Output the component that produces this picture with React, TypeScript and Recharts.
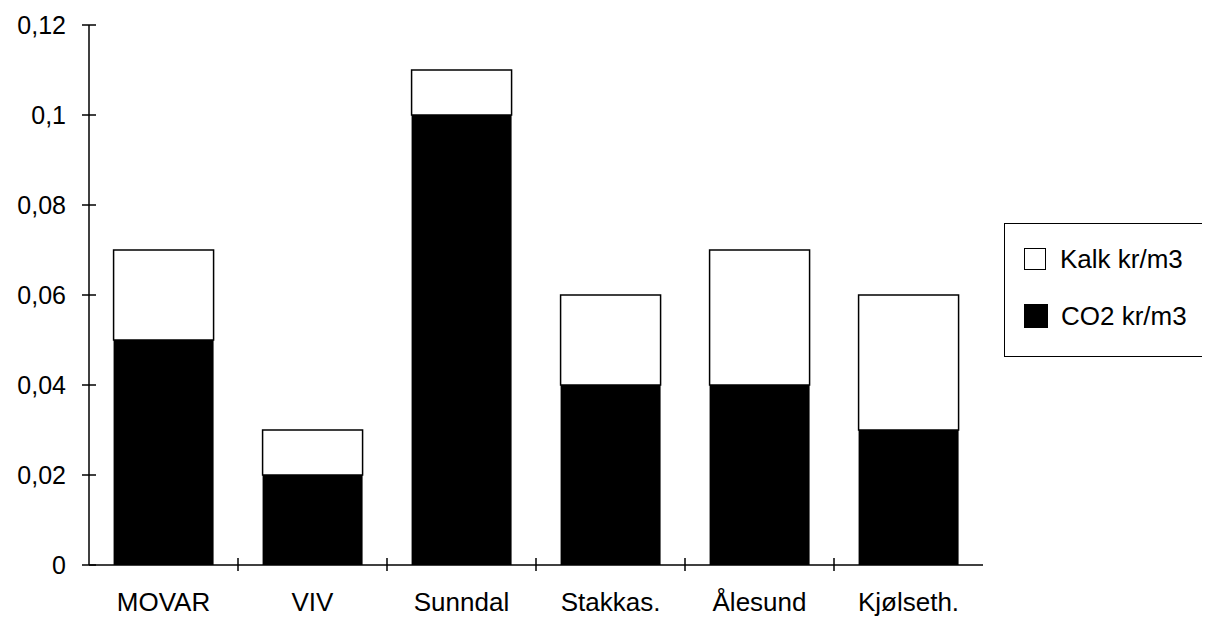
import React from 'react';
import { BarChart, Bar, XAxis, YAxis, Legend } from 'recharts';

const categories = ['MOVAR', 'VIV', 'Sunndal', 'Stakkas.', 'Ålesund', 'Kjølseth.'];
const co2Values = [0.05, 0.02, 0.1, 0.04, 0.04, 0.03];
const kalkValues = [0.02, 0.01, 0.01, 0.02, 0.03, 0.03];
const yTicks = [0, 0.02, 0.04, 0.06, 0.08, 0.1, 0.12];
const yTickLabels = ['0', '0,02', '0,04', '0,06', '0,08', '0,1', '0,12'];

const seriesNames = { kalk: 'Kalk kr/m3', co2: 'CO2 kr/m3' };

const data = categories.map((name, i) => ({ name, co2: co2Values[i], kalk: kalkValues[i] }));

const FONT = '"Liberation Sans", Arial, sans-serif';

const YTick = (props: any) => {
  const { x, y, payload } = props;
  const idx = yTicks.indexOf(payload.value);
  return (
    <g>
      <line x1={x + 16} x2={x + 30} y1={y} y2={y} stroke="#000" strokeWidth={1.5} />
      <text x={x} y={y} dy="0.36em" textAnchor="end" fontFamily={FONT} fontSize={25} fill="#000">
        {idx >= 0 ? yTickLabels[idx] : String(payload.value)}
      </text>
    </g>
  );
};

const XTick = (props: any) => {
  const { x, y, payload, index } = props;
  const half = payload.offset || 0;
  const axisY = y - 28;
  return (
    <g>
      {index > 0 && (
        <line x1={x - half} x2={x - half} y1={axisY - 7} y2={axisY + 6} stroke="#000" strokeWidth={1.5} />
      )}
      <text x={x} y={y} dy="0.71em" textAnchor="middle" fontFamily={FONT} fontSize={26} fill="#000">
        {payload.value}
      </text>
    </g>
  );
};

const LegendContent = () => (
  <div
    style={{
      position: 'relative',
      width: '100%',
      height: '100%',
      boxSizing: 'border-box',
      borderLeft: '1.5px solid #000',
      borderTop: '1.5px solid #000',
      borderBottom: '1.5px solid #000',
      fontFamily: FONT,
      fontSize: 26,
      color: '#000',
    }}
  >
    <div style={{ position: 'absolute', left: 19, top: 23, display: 'flex', alignItems: 'center' }}>
      <div style={{ width: 22, height: 22, border: '1.5px solid #000', background: '#fff', boxSizing: 'border-box' }} />
      <span style={{ marginLeft: 14, lineHeight: '24px' }}>{seriesNames.kalk}</span>
    </div>
    <div style={{ position: 'absolute', left: 19, top: 80, display: 'flex', alignItems: 'center' }}>
      <div style={{ width: 24, height: 24, background: '#000' }} />
      <span style={{ marginLeft: 13, lineHeight: '24px' }}>{seriesNames.co2}</span>
    </div>
  </div>
);

export default function App() {
  return (
    <div style={{ width: 1194, height: 613, background: '#fff' }}>
      <BarChart
        width={1194}
        height={613}
        data={data}
        margin={{ top: 17, right: 219, bottom: 0, left: 0 }}
        barCategoryGap="16.5%"
      >
        <XAxis
          dataKey="name"
          height={56}
          axisLine={{ stroke: '#000', strokeWidth: 1.5 }}
          tickLine={false}
          tickSize={0}
          tickMargin={28}
          tick={<XTick />}
          interval={0}
        />
        <YAxis
          width={81}
          domain={[0, 0.12]}
          ticks={yTicks}
          axisLine={{ stroke: '#000', strokeWidth: 1.5 }}
          tickLine={false}
          tickSize={0}
          tickMargin={23}
          tick={<YTick />}
          interval={0}
        />
        <Legend
          layout="vertical"
          align="center"
          verticalAlign="middle"
          content={<LegendContent />}
          wrapperStyle={{ position: 'absolute', left: 996, top: 215, width: 198, height: 134 }}
        />
        <Bar dataKey="co2" name={seriesNames.co2} stackId="a" fill="#000" isAnimationActive={false} />
        <Bar dataKey="kalk" name={seriesNames.kalk} stackId="a" fill="#fff" stroke="#000" strokeWidth={1.5} isAnimationActive={false} />
      </BarChart>
    </div>
  );
}
